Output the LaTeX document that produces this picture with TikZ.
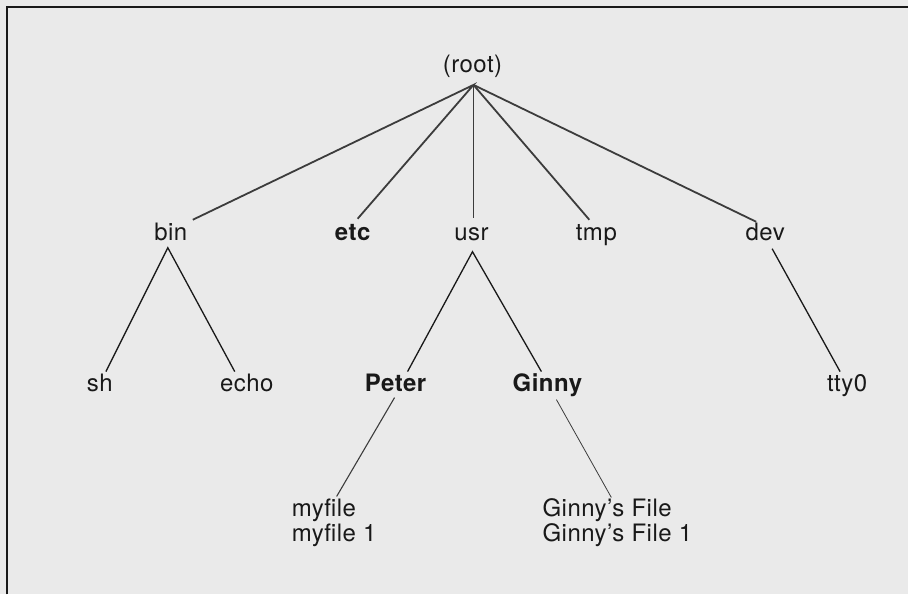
\documentclass[tikz,border=0pt]{standalone}
\usepackage{fontspec}
\setmainfont{TeX Gyre Heros}[LetterSpace=2]
\definecolor{bgc}{RGB}{234,234,234}
\definecolor{ink}{RGB}{25,25,25}
\definecolor{trunkc}{RGB}{60,60,60}
\begin{document}
\begin{tikzpicture}[x=1pt,y=-1pt,
  lbl/.style={anchor=base, inner sep=0pt, text=ink, font=\fontsize{24}{25}\selectfont},
  blbl/.style={lbl, font=\fontsize{24}{25}\selectfont\bfseries},
  flbl/.style={lbl, anchor=base west},
  frame/.style={draw=ink, line width=2pt},
  trunk/.style={draw=trunkc, line width=1.8pt},
  branch/.style={draw=ink, line width=1.3pt},
  twig/.style={draw=trunkc, line width=1.1pt}]
\fill[bgc] (0,0) rectangle (909,595);
\draw[frame] (7,595) -- (7,7) -- (909,7);
% level 0
\node[lbl] (root) at (473,73) {(root)};
\coordinate (rootp) at (474,85);
% level 1
\node[lbl]  (bin) at (171,241) {bin};
\node[blbl] (etc) at (353,241) {etc};
\node[lbl]  (usr) at (472,241) {usr};
\node[lbl]  (tmp) at (597,241) {tmp};
\node[lbl]  (dev) at (766,241) {dev};
% level 2
\node[lbl]  (sh) at (100,392) {sh};
\node[lbl]  (echo) at (247,392) {echo};
\node[blbl] (peter) at (396,392) {Peter};
\node[blbl] (ginny) at (548,392) {Ginny};
\node[lbl]  (tty) at (848,392) {tty0};
% level 3
\node[flbl] (myf) at (292,517) {myfile};
\node[flbl] (myfa) at (292,542) {myfile 1};
\node[flbl] (gf) at (543,517) {Ginny’s File};
\node[flbl] (gfa) at (543,542) {Ginny’s File 1};
% connector ends
\coordinate (binT) at (193,220);
\coordinate (etcT) at (358,219);
\coordinate (usrT) at (474,218);
\coordinate (tmpT) at (590,220);
\coordinate (devT) at (757,222);
\coordinate (binB) at (168,248);
\coordinate (usrB) at (473,252);
\coordinate (devB) at (773,249);
\coordinate (shT) at (106,372);
\coordinate (echoT) at (235,372);
\coordinate (peterT) at (408,372);
\coordinate (ginnyT) at (542,372);
\coordinate (ttyT) at (841,372);
\coordinate (peterB) at (395,398);
\coordinate (myfT) at (337,497);
\coordinate (ginnyB) at (557,400);
\coordinate (gfT) at (612,498);
% connectors
\draw[trunk] (binT) -- (rootp) -- (etcT);
\draw[trunk] (rootp) -- (usrT);
\draw[trunk] (rootp) -- (tmpT);
\draw[trunk] (rootp) -- (devT);
\draw[branch] (shT) -- (binB) -- (echoT);
\draw[branch] (peterT) -- (usrB) -- (ginnyT);
\draw[branch] (devB) -- (ttyT);
\draw[twig] (peterB) -- (myfT);
\draw[twig, line width=0.8pt] (ginnyB) -- (gfT);
\end{tikzpicture}
\end{document}
